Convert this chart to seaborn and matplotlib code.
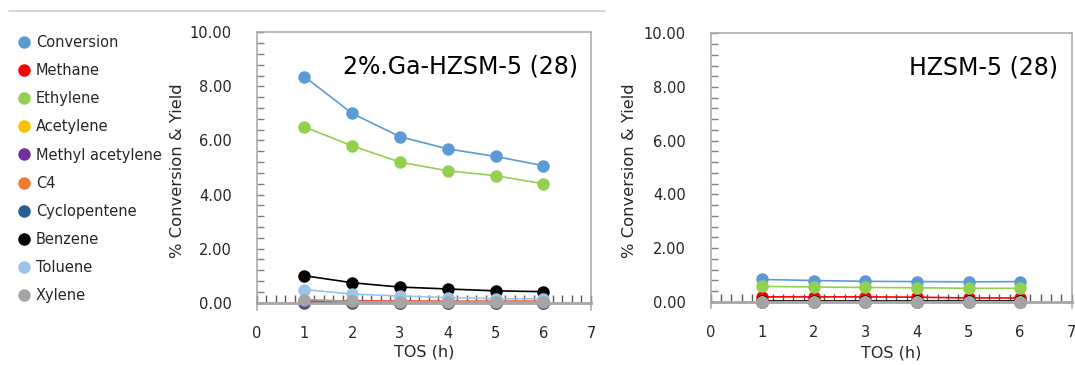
import pandas as pd
import seaborn as sns
import matplotlib.pyplot as plt
from matplotlib.lines import Line2D
from matplotlib.ticker import MultipleLocator, FormatStrFormatter

# Time on stream (h)
tos = [1, 2, 3, 4, 5, 6]

species = ['Conversion', 'Methane', 'Ethylene', 'Acetylene', 'Methyl acetylene',
           'C4', 'Cyclopentene', 'Benzene', 'Toluene', 'Xylene']
colors = ['#5B9BD5', '#FF0000', '#92D050', '#FFC000', '#7030A0',
          '#ED7D31', '#255E91', '#000000', '#9DC3E6', '#A5A5A5']

# 2%.Ga-HZSM-5 (28)
ga_conversion = [8.36, 7.00, 6.14, 5.69, 5.41, 5.07]
ga_methane = [0.08, 0.07, 0.06, 0.05, 0.05, 0.05]
ga_ethylene = [6.50, 5.80, 5.20, 4.88, 4.70, 4.40]
ga_acetylene = [0.00, 0.00, 0.00, 0.00, 0.00, 0.00]
ga_methyl_acetylene = [0.00, 0.00, 0.00, 0.00, 0.00, 0.00]
ga_c4 = [0.03, 0.03, 0.05, 0.05, 0.05, 0.05]
ga_cyclopentene = [0.02, 0.02, 0.00, 0.00, 0.00, 0.00]
ga_benzene = [1.00, 0.74, 0.58, 0.51, 0.44, 0.41]
ga_toluene = [0.49, 0.32, 0.25, 0.19, 0.15, 0.15]
ga_xylene = [0.12, 0.05, 0.04, 0.03, 0.03, 0.03]

# HZSM-5 (28)
h_conversion = [0.83, 0.79, 0.76, 0.75, 0.74, 0.75]
h_methane = [0.18, 0.18, 0.18, 0.17, 0.14, 0.14]
h_ethylene = [0.57, 0.55, 0.53, 0.52, 0.50, 0.50]
h_acetylene = [0.00, 0.00, 0.00, 0.00, 0.00, 0.00]
h_methyl_acetylene = [0.00, 0.00, 0.00, 0.00, 0.00, 0.00]
h_c4 = [0.00, 0.00, 0.00, 0.00, 0.00, 0.00]
h_cyclopentene = [0.00, 0.00, 0.00, 0.00, 0.00, 0.00]
h_benzene = [0.04, 0.04, 0.04, 0.04, 0.04, 0.04]
h_toluene = [0.00, 0.00, 0.00, 0.00, 0.00, 0.00]
h_xylene = [0.00, 0.00, 0.00, 0.00, 0.00, 0.00]

ga_series = [ga_conversion, ga_methane, ga_ethylene, ga_acetylene, ga_methyl_acetylene,
             ga_c4, ga_cyclopentene, ga_benzene, ga_toluene, ga_xylene]
h_series = [h_conversion, h_methane, h_ethylene, h_acetylene, h_methyl_acetylene,
            h_c4, h_cyclopentene, h_benzene, h_toluene, h_xylene]


def to_long(series):
    rows = []
    for name, vals in zip(species, series):
        for t, v in zip(tos, vals):
            rows.append({'TOS': t, 'value': v, 'species': name})
    return pd.DataFrame(rows)


sns.set_style('white')
plt.rcParams['font.family'] = ['DejaVu Sans']

fig = plt.figure(figsize=(10.75, 3.65), dpi=100)
ax1 = fig.add_axes([0.2388, 0.152, 0.311, 0.7595])
ax2 = fig.add_axes([0.6611, 0.155, 0.3358, 0.7537])

palette = dict(zip(species, colors))
frame_col = '#A6A6A6'

for ax, series, title, ylx, xly in [(ax1, ga_series, '2%.Ga-HZSM-5 (28)', -0.2145, -0.125),
                                    (ax2, h_series, 'HZSM-5 (28)', -0.205, -0.135)]:
    df = to_long(series)
    sns.lineplot(data=df, x='TOS', y='value', hue='species', hue_order=species,
                 palette=palette, marker='o', markersize=9, markeredgewidth=0,
                 linewidth=1.2, legend=False, ax=ax)
    ax.set_xlim(0, 7)
    ax.set_ylim(-0.25, 10)
    ax.xaxis.set_major_locator(MultipleLocator(1))
    ax.xaxis.set_minor_locator(MultipleLocator(0.2))
    ax.yaxis.set_major_locator(MultipleLocator(2))
    ax.yaxis.set_minor_locator(MultipleLocator(0.4))
    ax.yaxis.set_major_formatter(FormatStrFormatter('%.2f'))
    ax.set_yticks([0, 2, 4, 6, 8, 10])
    for side in ['left', 'right', 'top']:
        ax.spines[side].set_color(frame_col)
        ax.spines[side].set_linewidth(1.1)
    ax.spines['bottom'].set_position(('data', 0))
    ax.spines['bottom'].set_color(frame_col)
    ax.spines['bottom'].set_linewidth(2)
    ax.tick_params(axis='x', which='both', direction='in', length=6, width=1,
                   color='#595959', labelsize=10.5, pad=17, labelcolor='#262626',
                   bottom=True)
    ax.tick_params(axis='y', which='both', direction='in', length=5, width=1,
                   color='#7F7F7F', labelsize=10.5, pad=18, labelcolor='#262626',
                   left=True)
    ax.set_xlabel('TOS (h)', fontsize=11.5, color='#262626')
    ax.set_ylabel('% Conversion & Yield', fontsize=11.8, color='#262626')
    ax.xaxis.set_label_coords(0.5, xly)
    ax.yaxis.set_label_coords(ylx, 0.5)
    ax.text(0.962, 0.876, title, transform=ax.transAxes, ha='right', va='center',
            fontsize=17, color='black')

# legend with markers only
handles = [Line2D([], [], linestyle='none', marker='o', markersize=9,
                  markerfacecolor=c, markeredgewidth=0) for c in colors]
fig.legend(handles, species, loc='upper left', bbox_to_anchor=(0.007, 0.92),
           frameon=False, fontsize=10.5, labelspacing=0.9, handletextpad=0.05,
           handlelength=1.5, borderaxespad=0)

# thin separator line on top
fig.add_artist(Line2D([0.008, 0.563], [0.97, 0.97], color='#D0D0D0', linewidth=1.2))

fig.savefig('out.png', dpi=100)
